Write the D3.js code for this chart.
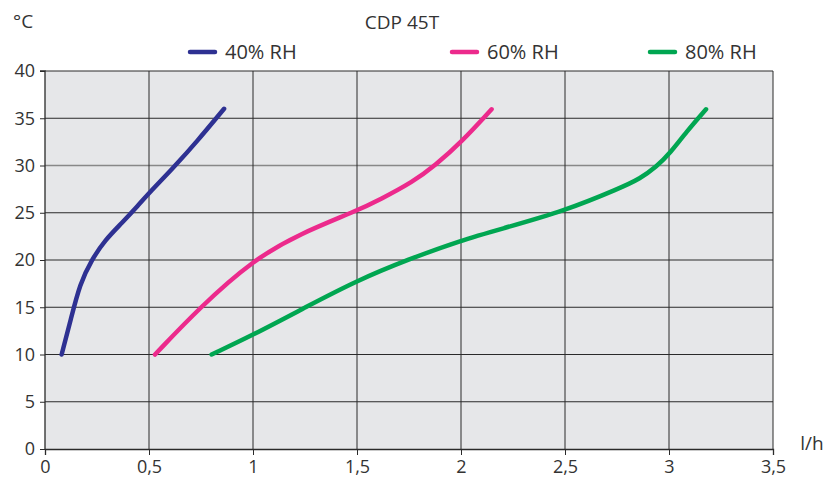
<!DOCTYPE html>
<html><head><meta charset="utf-8">
<script src="https://cdn.jsdelivr.net/npm/d3@7/dist/d3.min.js"></script>
<style>body{margin:0;background:#fff}text{font-family:"Open Sans",sans-serif;fill:#333}</style>
</head><body><svg id="c" width="836" height="484"></svg>
<script>
const title = "CDP 45T";
const yUnit = "°C";
const xUnit = "l/h";
const xTicks = [0, 0.5, 1, 1.5, 2, 2.5, 3, 3.5];
const yTicks = [0, 5, 10, 15, 20, 25, 30, 35, 40];
const seriesNames = ["40% RH", "60% RH", "80% RH"];
const seriesColors = ["#2e3192", "#ec2a8c", "#00a651"];
const rh40 = [[0.080,10],[0.125,13.8],[0.168,17.5],[0.224,20],[0.288,22.1],[0.369,23.9],[0.449,25.8],[0.505,27.2],[0.625,29.95],[0.729,32.5],[0.861,36]];
const rh60 = [[0.529,10],[0.745,15],[1.0,20],[1.226,22.8],[1.498,25.2],[1.611,26.4],[1.771,28.3],[1.875,30],[2.003,32.5],[2.147,35.95]];
const rh80 = [[0.801,10],[1.0,12.06],[1.258,15.06],[1.498,17.8],[1.747,20.07],[2.003,22.1],[2.1875,23.25],[2.5,25.2],[2.764,27.6],[2.861,28.6],[2.941,29.9],[3.005,31.3],[3.085,33.6],[3.178,35.95]];
const seriesData = [rh40, rh60, rh80];

const svg = d3.select("#c");
const x = d3.scaleLinear().domain([0, 3.5]).range([45, 773]);
const y = d3.scaleLinear().domain([0, 40]).range([449, 71]);
const fmt = d => String(d).replace(".", ",");

svg.append("rect").attr("x", x(0)).attr("y", y(40)).attr("width", x(3.5) - x(0)).attr("height", y(0) - y(40)).attr("fill", "#e6e7e9");

// grid
svg.append("g").selectAll("line").data(yTicks.filter(d => d > 0)).join("line")
  .attr("x1", x(0)).attr("x2", x(3.5)).attr("y1", d => y(d)).attr("y2", d => y(d))
  .attr("stroke", d => d === 30 ? "#888" : "#2a2a2a").attr("stroke-width", d => d === 30 ? 1.6 : 1);
svg.append("g").selectAll("line").data(xTicks.filter(d => d > 0)).join("line")
  .attr("y1", y(0)).attr("y2", y(40)).attr("x1", d => x(d)).attr("x2", d => x(d))
  .attr("stroke", "#2a2a2a").attr("stroke-width", 1);

// axes
const xAxis = d3.axisBottom(x).tickValues(xTicks).tickFormat(fmt).tickSize(6).tickPadding(5);
const yAxis = d3.axisLeft(y).tickValues(yTicks).tickFormat(fmt).tickSize(5).tickPadding(5);
const gx = svg.append("g").attr("transform", `translate(0,${y(0)})`).call(xAxis);
const gy = svg.append("g").attr("transform", `translate(${x(0)},0)`).call(yAxis);
[gx, gy].forEach(g => {
  g.select(".domain").attr("stroke", "#2a2a2a").attr("stroke-width", 1.3);
  g.selectAll(".tick line").attr("stroke", "#2a2a2a");
  g.selectAll(".tick text").style("font-size", "18px").attr("fill", "#333").style("font-family", '"Open Sans",sans-serif');
});
gy.select(".domain").attr("d", `M-5,${y(40)}H0V${y(0)}`);

// lines
const line = d3.line().x(d => x(d[0])).y(d => y(d[1])).curve(d3.curveBasis);
seriesData.forEach((s, i) => {
  svg.append("path").datum(s).attr("d", line).attr("fill", "none")
    .attr("stroke", seriesColors[i]).attr("stroke-width", 4.5).attr("stroke-linecap", "round").attr("stroke-linejoin", "round");
});

// texts
svg.append("text").attr("x", 13).attr("y", 28).style("font-size", "19px").text(yUnit);
svg.append("text").attr("x", 402).attr("y", 29).attr("text-anchor", "middle").style("font-size", "19px").text(title);
svg.append("text").attr("x", 812).attr("y", 450).attr("text-anchor", "middle").style("font-size", "19px").text(xUnit);

const legX = [190, 452, 650];
seriesNames.forEach((n, i) => {
  svg.append("line").attr("x1", legX[i]).attr("x2", legX[i] + 25).attr("y1", 52).attr("y2", 52)
    .attr("stroke", seriesColors[i]).attr("stroke-width", 4.5).attr("stroke-linecap", "round");
  svg.append("text").attr("x", legX[i] + 35).attr("y", 59).style("font-size", "20px").text(n);
});
</script></body></html>
